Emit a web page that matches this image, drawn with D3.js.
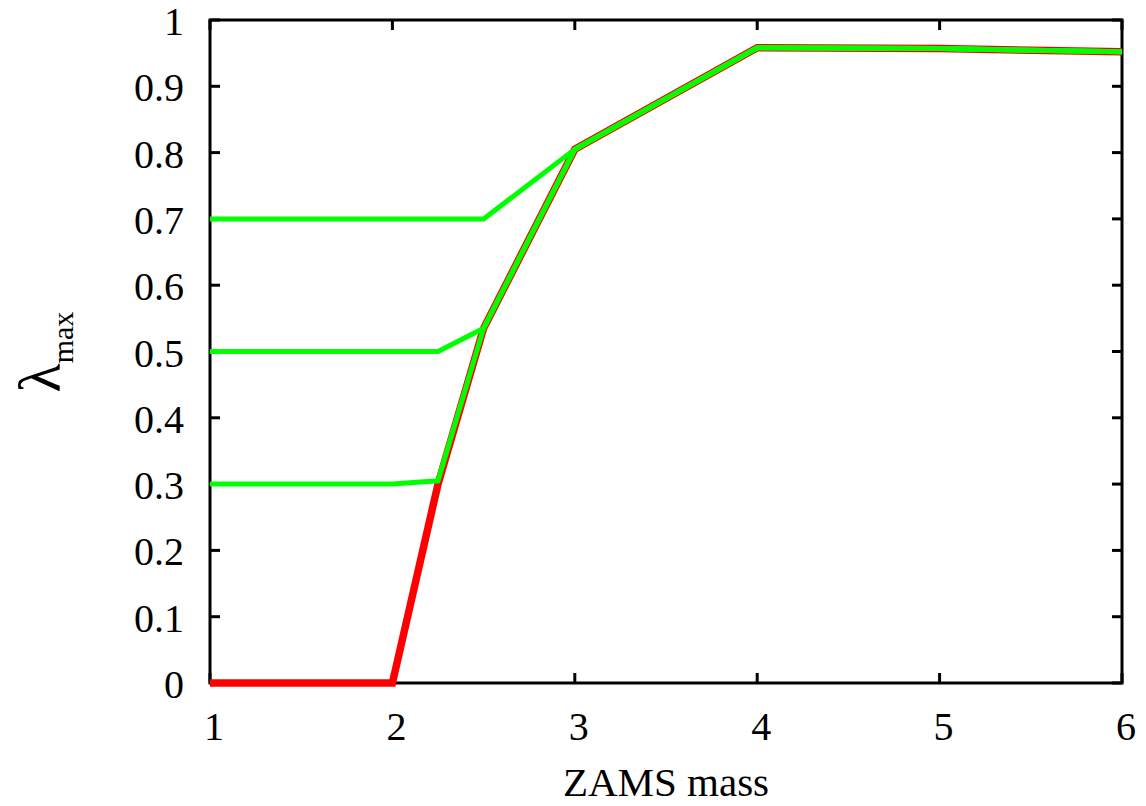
<!DOCTYPE html>
<html>
<head>
<meta charset="utf-8" />
<title>lambda max vs ZAMS mass</title>
<style>
html, body {
    padding: 0px;
    margin: 0px;
    background: #fff;
}
</style>
</head>
<body>
<svg id="chart" width="1146" height="806" font-family="'Liberation Serif', 'Times New Roman', Times, serif"></svg>

<script src="https://cdnjs.cloudflare.com/ajax/libs/d3/7.8.5/d3.min.js"></script>
<script>
(function(){
    "use strict";

    // ZAMS masses and lambda_max values
    var masses   = [1, 1.5, 2, 2.25, 2.5, 3, 4, 5, 6];
    var lamRed   = [0, 0, 0, 0.3, 0.535, 0.805, 0.958, 0.957, 0.952];
    var lamFrom3 = [0.3, 0.3, 0.3, 0.305, 0.535, 0.805, 0.958, 0.957, 0.952];
    var lamFrom5 = [0.5, 0.5, 0.5, 0.5, 0.535, 0.805, 0.958, 0.957, 0.952];
    var lamFrom7 = [0.7, 0.7, 0.7, 0.7, 0.7, 0.805, 0.958, 0.957, 0.952];

    var xTicks = [1, 2, 3, 4, 5, 6];
    var yTicks = [0, 0.1, 0.2, 0.3, 0.4, 0.5, 0.6, 0.7, 0.8, 0.9, 1];

    var left = 210, right = 1122, top = 20, bottom = 683;

    var svg = d3.select("#chart");

    var x = d3.scaleLinear().domain([1, 6]).range([left, right]);
    var y = d3.scaleLinear().domain([0, 1]).range([bottom, top]);

    var line = d3.line()
        .x(function(d){ return x(d[0]); })
        .y(function(d){ return y(d[1]); });

    function pairs(vals) {
        return masses.map(function(m, i){ return [m, vals[i]]; });
    }

    // frame
    svg.append("rect")
        .attr("x", left).attr("y", top)
        .attr("width", right - left).attr("height", bottom - top)
        .attr("fill", "none")
        .attr("stroke", "#000")
        .attr("stroke-width", 3);

    // ticks (inward, mirrored)
    var tickLen = 10;
    var ticks = svg.append("g")
        .attr("stroke", "#000")
        .attr("stroke-width", 3);

    xTicks.forEach(function(t){
        ticks.append("line")
            .attr("x1", x(t)).attr("x2", x(t))
            .attr("y1", bottom).attr("y2", bottom - tickLen);
        ticks.append("line")
            .attr("x1", x(t)).attr("x2", x(t))
            .attr("y1", top).attr("y2", top + tickLen);
    });
    yTicks.forEach(function(t){
        ticks.append("line")
            .attr("x1", left).attr("x2", left + tickLen)
            .attr("y1", y(t)).attr("y2", y(t));
        ticks.append("line")
            .attr("x1", right).attr("x2", right - tickLen)
            .attr("y1", y(t)).attr("y2", y(t));
    });

    // curves: red first, green on top
    svg.append("path")
        .attr("d", line(pairs(lamRed)))
        .attr("fill", "none")
        .attr("stroke", "#ff0000")
        .attr("stroke-width", 7.5);

    [lamFrom3, lamFrom5, lamFrom7].forEach(function(vals){
        svg.append("path")
            .attr("d", line(pairs(vals)))
            .attr("fill", "none")
            .attr("stroke", "#00ff00")
            .attr("stroke-width", 5);
    });

    // tick labels
    svg.selectAll("text.xt")
        .data(xTicks)
        .enter()
        .append("text")
        .attr("class", "xt")
        .attr("x", function(d){ return x(d) + 4; })
        .attr("y", 740)
        .attr("text-anchor", "middle")
        .attr("font-size", 40)
        .text(function(d){ return d; });

    svg.selectAll("text.yt")
        .data(yTicks)
        .enter()
        .append("text")
        .attr("class", "yt")
        .attr("x", 184)
        .attr("y", function(d){ return y(d) + 15; })
        .attr("text-anchor", "end")
        .attr("font-size", 40)
        .text(function(d){ return d3.format("")(d); });

    // axis titles
    svg.append("text")
        .attr("x", 666)
        .attr("y", 796)
        .attr("text-anchor", "middle")
        .attr("font-size", 41)
        .text("ZAMS mass");

    var yl = svg.append("text")
        .attr("transform", "translate(60,352) rotate(-90)")
        .attr("text-anchor", "middle");
    yl.append("tspan")
        .attr("font-size", 60)
        .text("λ");
    yl.append("tspan")
        .attr("font-size", 30)
        .attr("dy", 13)
        .text("max");

}());
</script>
</body>
</html>
